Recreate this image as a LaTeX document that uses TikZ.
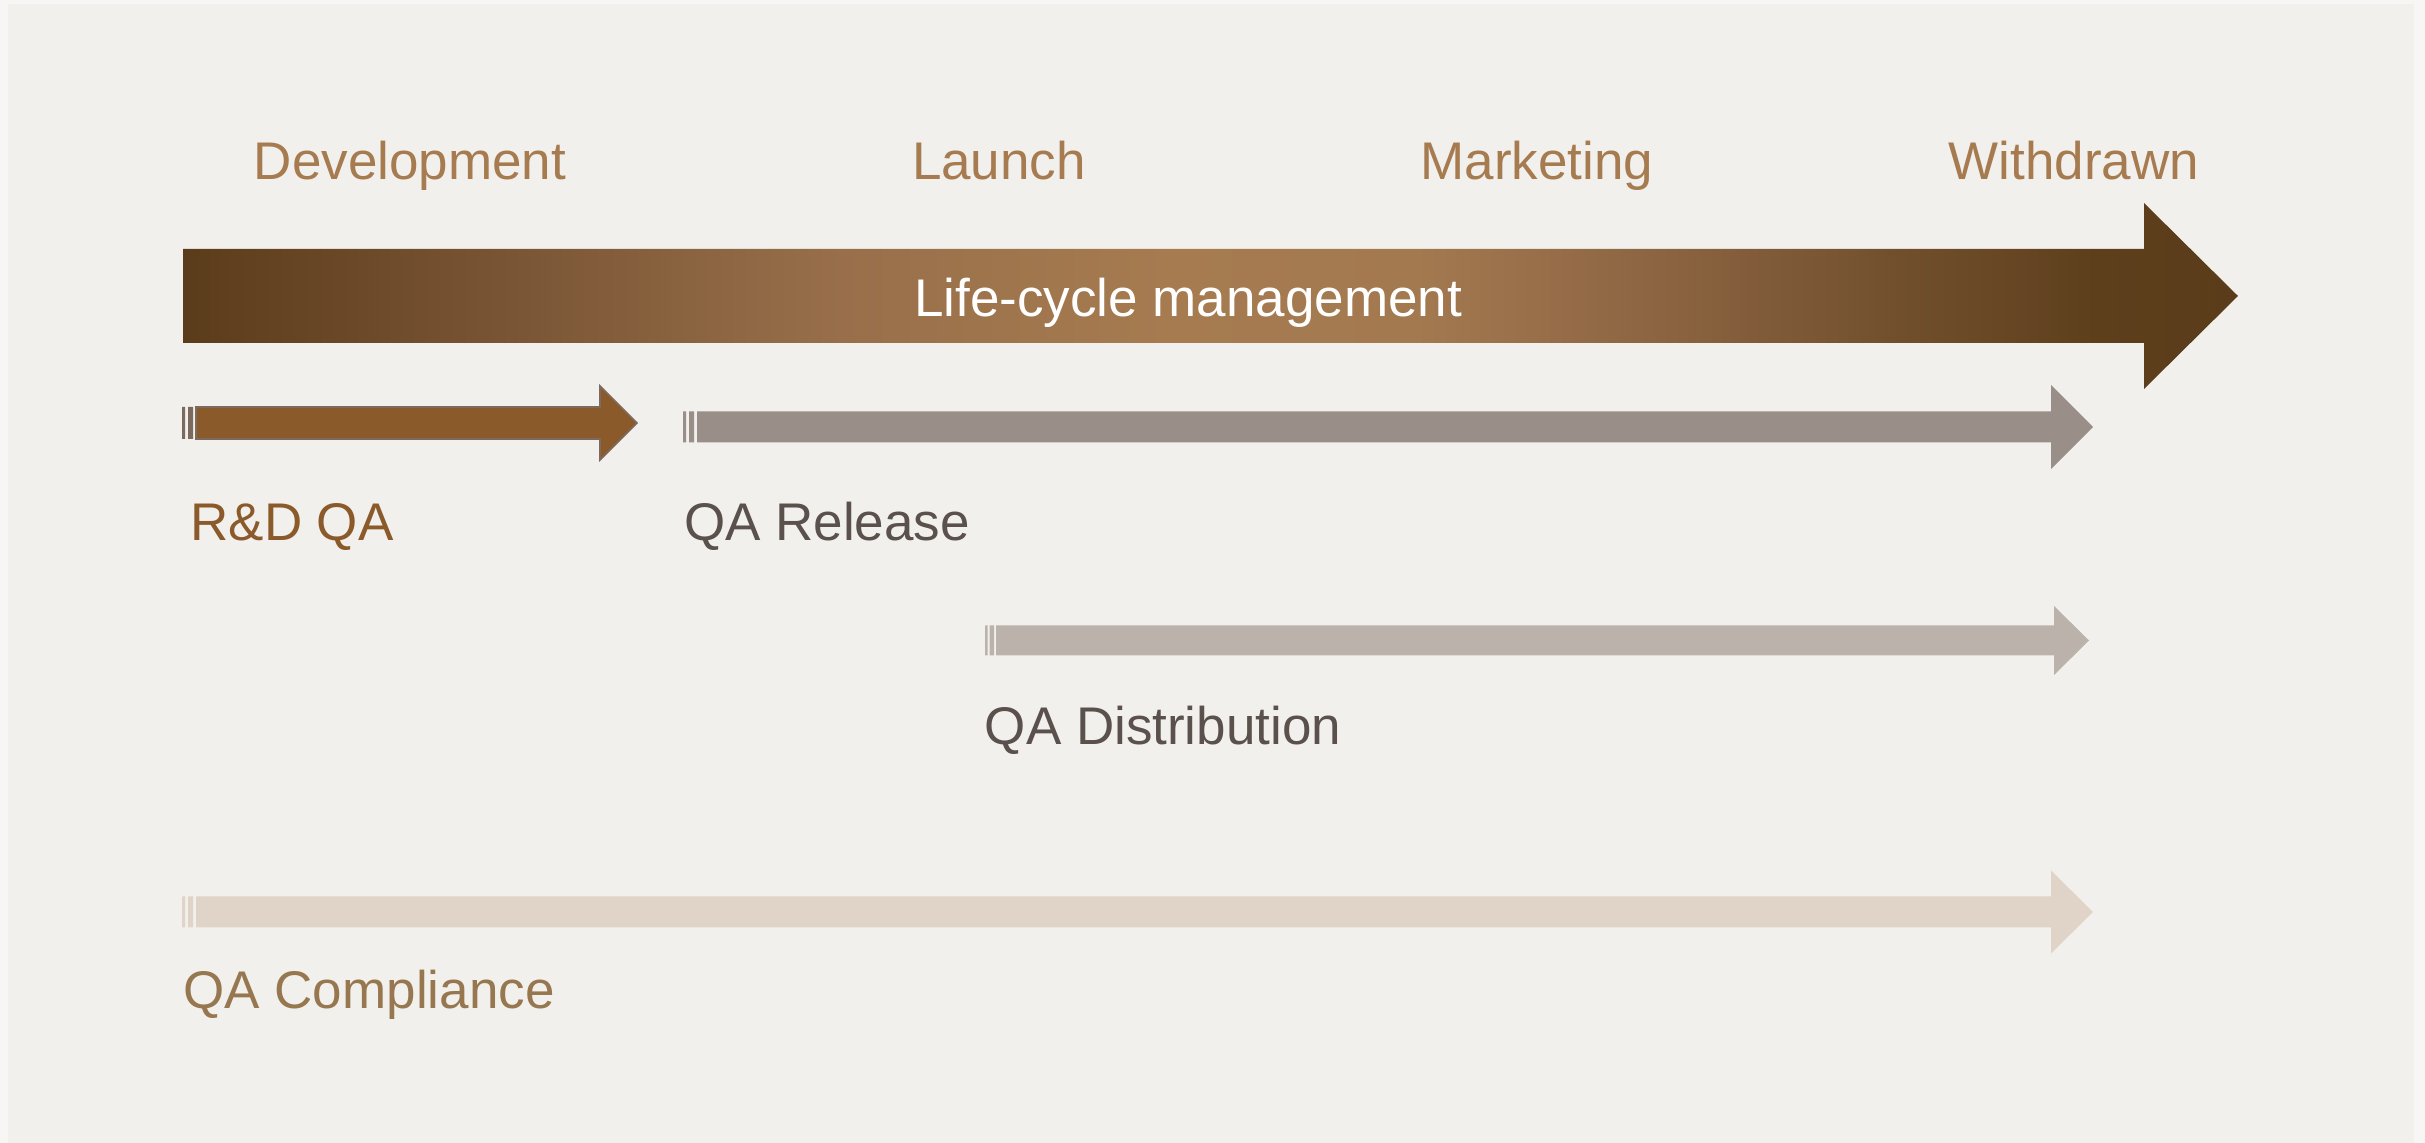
\documentclass[tikz,border=0pt]{standalone}
\usepackage{fontspec}
\setmainfont{Liberation Sans}
\usetikzlibrary{positioning}
\definecolor{pagebg}{HTML}{F7F6F4}
\definecolor{panelbg}{HTML}{F2F0EC}
\definecolor{phasecol}{HTML}{A67B50}
\definecolor{lcdark}{HTML}{5B3C1A}
\definecolor{lcmidA}{HTML}{7A5535}
\definecolor{lcmidB}{HTML}{986F4A}
\definecolor{lclight}{HTML}{A67B50}
\definecolor{lcmidC}{HTML}{A37950}
\definecolor{lcmidD}{HTML}{8A6240}
\definecolor{lcmidE}{HTML}{72502E}
\definecolor{lcmidF}{HTML}{5E3F1C}
\definecolor{rdfill}{HTML}{8B5A2B}
\definecolor{rdline}{HTML}{7D6A5F}
\definecolor{relfill}{HTML}{9A8F88}
\definecolor{distfill}{HTML}{BBB2AB}
\definecolor{compfill}{HTML}{DFD4C7}
\definecolor{greytext}{HTML}{5A504C}
\definecolor{comptext}{HTML}{96774F}
\pgfdeclarehorizontalshading{lcshade}{100bp}{color(0bp)=(lcdark); color(25bp)=(lcdark);
  color(33bp)=(lcmidA); color(41bp)=(lcmidB); color(49bp)=(lclight); color(55bp)=(lcmidC);
  color(61.5bp)=(lcmidD); color(66.5bp)=(lcmidE); color(71.5bp)=(lcmidF); color(75bp)=(lcdark);
  color(100bp)=(lcdark)}
\begin{document}
\begin{tikzpicture}[x=0.25pt, y=-0.25pt,
  lbl/.style={font=\fontsize{13.25}{16}\selectfont, inner sep=0pt, anchor=base},
  phase/.style={lbl, text=phasecol},
  lane/.style={lbl, text=greytext}]
\useasboundingbox (0,0) rectangle (2425,1143);
\fill[pagebg] (0,0) rectangle (2425,1143);
\fill[panelbg] (8,4) rectangle (2414,1143);

% phases
\node[phase] (dev) at (410,180) {Development};
\node[phase] (launch) at (999,180) {Launch};
\node[phase] (mkt) at (1537,180) {Marketing};
\node[phase] (wdr) at (2074,180) {Withdrawn};

% life-cycle arrow
\shade[shading=lcshade]
  (183,249) -- (2144,249) -- (2144,203) -- (2238,296) -- (2144,389) -- (2144,343) -- (183,343) -- cycle;
\node[lbl, text=white] (lcm) at (1188,317) {Life-cycle management};

% R&D QA
\fill[rdline] (182,407) rectangle (185,439) (188,407) rectangle (193,439);
\filldraw[fill=rdfill, draw=rdline, line width=0.4pt]
  (196,407) -- (600,407) -- (600,386) -- (637,423) -- (600,460) -- (600,439) -- (196,439) -- cycle;
\node[lbl, text=rdfill] (rdqa) at (292,541) {R\&D QA};

% QA Release
\fill[relfill] (683,411.5) rectangle (686,442.5) (689,411.5) rectangle (694,442.5);
\fill[relfill]
  (697,411.5) -- (2051,411.5) -- (2051,385) -- (2093,427) -- (2051,469) -- (2051,442.5) -- (697,442.5) -- cycle;
\node[lane] (rel) at (827,541) {QA Release};

% QA Distribution
\fill[distfill] (985,625.5) rectangle (987.5,655.5) (989.5,625.5) rectangle (994,655.5);
\fill[distfill]
  (996,625.5) -- (2054,625.5) -- (2054,606) -- (2089,640.5) -- (2054,675) -- (2054,655.5) -- (996,655.5) -- cycle;
\node[lane] (dist) at (1163,745) {QA Distribution};

% QA Compliance
\fill[compfill] (182,896.5) rectangle (185,927.5) (188,896.5) rectangle (193,927.5);
\fill[compfill]
  (196,896.5) -- (2051,896.5) -- (2051,870.5) -- (2093,912) -- (2051,953.5) -- (2051,927.5) -- (196,927.5) -- cycle;
\node[lbl, text=comptext] (comp) at (369,1009) {QA Compliance};
\end{tikzpicture}
\end{document}
